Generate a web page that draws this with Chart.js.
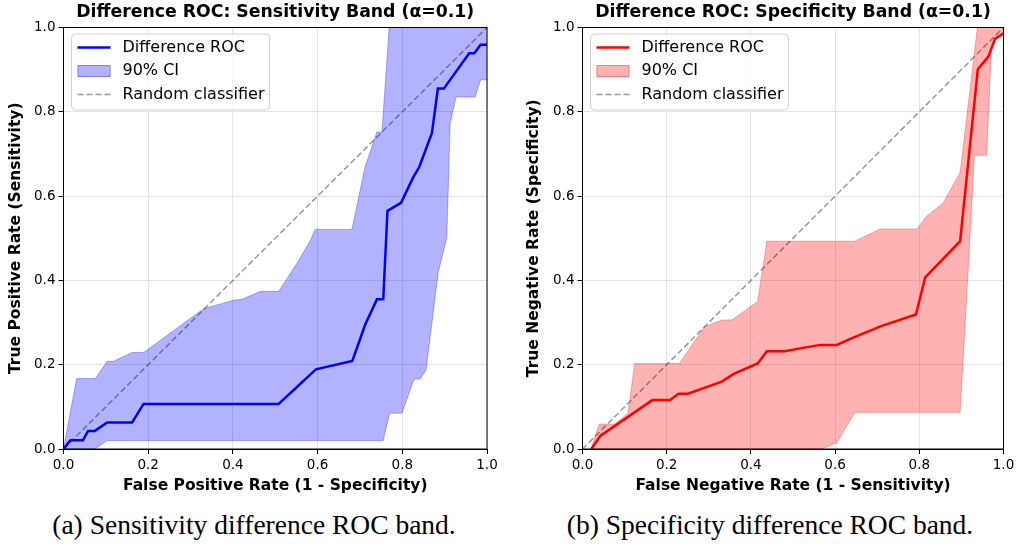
<!DOCTYPE html>
<html>
<head>
<meta charset="utf-8">
<script src="https://cdn.jsdelivr.net/npm/chart.js@4.4.0/dist/chart.umd.min.js"></script>
<style>
  html, body { margin: 0; padding: 0; background: #fff; }
  body { width: 1018px; height: 550px; position: relative; overflow: hidden; }
  .panel { position: absolute; top: 0; }
  .cap { position: absolute; top: 509px; font-family: 'Liberation Serif', 'Times New Roman', serif; font-size: 27.5px; color: #000; text-align: center; white-space: nowrap; }
</style>
</head>
<body>
<div class="panel" style="left:0px;width:510px;height:500px"><canvas id="c1" width="510" height="500"></canvas></div>
<div class="panel" style="left:510px;width:508px;height:500px"><canvas id="c2" width="508" height="500"></canvas></div>
<div class="cap" style="left:0px;width:508px;">(a) Sensitivity difference ROC band.</div>
<div class="cap" style="left:516px;width:508px;">(b) Specificity difference ROC band.</div>
<script>
// ---------------- DATA ----------------
const tickValues = [0.0, 0.2, 0.4, 0.6, 0.8, 1.0];
const diagonal = [[0, 0], [1, 1]];

// Panel (a): sensitivity band
const sensRoc = [[0,0],[0.0165,0.021],[0.046,0.021],[0.058,0.043],[0.074,0.043],[0.103,0.063],[0.162,0.063],[0.189,0.107],[0.508,0.107],[0.596,0.189],[0.682,0.209],[0.712,0.294],[0.740,0.355],[0.755,0.355],[0.765,0.565],[0.797,0.584],[0.826,0.645],[0.840,0.669],[0.870,0.750],[0.884,0.855],[0.898,0.855],[0.958,0.939],[0.970,0.939],[0.985,0.959],[1.0,0.959]];
const sensUpper = [[0,0],[0.031,0.167],[0.075,0.167],[0.103,0.208],[0.118,0.208],[0.162,0.229],[0.189,0.229],[0.331,0.333],[0.402,0.353],[0.421,0.355],[0.465,0.374],[0.508,0.374],[0.551,0.44],[0.583,0.495],[0.594,0.521],[0.681,0.521],[0.712,0.669],[0.740,0.752],[0.752,0.752],[0.769,1.0],[1.0,1.0]];
const sensLower = [[0,0],[0.075,0],[0.103,0.020],[0.755,0.020],[0.770,0.085],[0.799,0.085],[0.828,0.166],[0.842,0.166],[0.856,0.187],[0.885,0.42],[0.905,0.5],[0.913,0.772],[0.927,0.835],[0.972,0.835],[0.985,0.876],[1.0,0.876]];

// Panel (b): specificity band
const specRoc = [[0.021,0],[0.042,0.031],[0.166,0.116],[0.208,0.116],[0.228,0.131],[0.250,0.131],[0.331,0.160],[0.359,0.178],[0.416,0.203],[0.438,0.232],[0.480,0.232],[0.564,0.247],[0.604,0.247],[0.643,0.264],[0.711,0.292],[0.792,0.319],[0.814,0.407],[0.897,0.493],[0.939,0.901],[0.964,0.931],[0.980,0.973],[1.0,0.986]];
const specUpper = [[0.02,0],[0.033,0.04],[0.040,0.059],[0.076,0.059],[0.108,0.085],[0.124,0.203],[0.230,0.203],[0.290,0.290],[0.331,0.306],[0.355,0.306],[0.416,0.350],[0.438,0.493],[0.647,0.493],[0.707,0.522],[0.794,0.522],[0.816,0.551],[0.856,0.583],[0.897,0.656],[0.938,1.0],[1.0,1.0]];
const specLower = [[0.02,0],[0.568,0],[0.604,0.015],[0.647,0.087],[0.897,0.087],[0.920,0.496],[0.931,0.697],[0.960,0.697],[0.972,0.965],[1.0,0.985]];

// ---------------- CHART ----------------
const FONT = "'DejaVu Sans', Verdana, sans-serif";
const pts = a => a.map(p => ({x: p[0], y: p[1]}));

function frameLegendTitle(opts) {
  return {
    id: 'frameLegendTitle',
    afterDraw(chart) {
      const ctx = chart.ctx, a = chart.chartArea;
      ctx.save();
      // frame
      ctx.strokeStyle = '#000'; ctx.lineWidth = 1;
      ctx.strokeRect(a.left, a.top, a.right - a.left, a.bottom - a.top);
      // title
      ctx.fillStyle = '#000';
      ctx.font = "bold 17.3px " + FONT;
      ctx.textAlign = 'center'; ctx.textBaseline = 'middle';
      ctx.fillText(opts.title, (a.left + a.right) / 2, 13);
      // legend box
      const bx = a.left + 8, by = a.top + 6.5, bw = 198, bh = 76, r = 4;
      ctx.beginPath();
      ctx.moveTo(bx + r, by); ctx.lineTo(bx + bw - r, by); ctx.arcTo(bx + bw, by, bx + bw, by + r, r);
      ctx.lineTo(bx + bw, by + bh - r); ctx.arcTo(bx + bw, by + bh, bx + bw - r, by + bh, r);
      ctx.lineTo(bx + r, by + bh); ctx.arcTo(bx, by + bh, bx, by + bh - r, r);
      ctx.lineTo(bx, by + r); ctx.arcTo(bx, by, bx + r, by, r);
      ctx.closePath();
      ctx.fillStyle = 'rgba(255,255,255,0.8)'; ctx.fill();
      ctx.strokeStyle = '#d0d0d0'; ctx.lineWidth = 1; ctx.stroke();
      const hx = bx + 6, hw = 33, tx = bx + 51;
      const rows = [by + 13.5, by + 37, by + 60.5];
      // handle 1: line
      ctx.strokeStyle = opts.color; ctx.lineWidth = 2.5;
      ctx.beginPath(); ctx.moveTo(hx, rows[0]); ctx.lineTo(hx + hw, rows[0]); ctx.stroke();
      // handle 2: fill
      ctx.fillStyle = opts.fill; ctx.fillRect(hx, rows[1] - 6, hw, 12);
      ctx.strokeStyle = opts.fill; ctx.lineWidth = 1; ctx.strokeRect(hx + 0.5, rows[1] - 5.5, hw - 1, 11);
      // handle 3: dashed
      ctx.strokeStyle = 'rgba(0,0,0,0.4)'; ctx.lineWidth = 1.5; ctx.setLineDash([6, 3]);
      ctx.beginPath(); ctx.moveTo(hx, rows[2]); ctx.lineTo(hx + hw, rows[2]); ctx.stroke();
      ctx.setLineDash([]);
      // texts
      ctx.fillStyle = '#000'; ctx.font = "16px " + FONT; ctx.textAlign = 'left'; ctx.textBaseline = 'middle';
      ctx.fillText('Difference ROC', tx, rows[0]);
      ctx.fillText('90% CI', tx, rows[1]);
      ctx.fillText('Random classifier', tx, rows[2]);
      ctx.restore();
    }
  };
}

function makeChart(id, o) {
  const canvas = document.getElementById(id);
  return new Chart(canvas, {
    type: 'scatter',
    data: {
      datasets: [
        { data: pts(o.roc), showLine: true, borderColor: o.color, borderWidth: 2.5, pointRadius: 0, fill: false, order: 0, tension: 0 },
        { data: pts(diagonal), showLine: true, borderColor: 'rgba(0,0,0,0.4)', borderWidth: 1.5, borderDash: [6, 3], pointRadius: 0, fill: false, order: 1 },
        { data: pts(o.lower), showLine: true, borderColor: o.fill, borderWidth: 1, pointRadius: 0, fill: false, order: 3 },
        { data: pts(o.upper), showLine: true, borderColor: o.fill, borderWidth: 1, pointRadius: 0, fill: 2, backgroundColor: o.fill, order: 2 }
      ]
    },
    options: {
      responsive: false,
      animation: false,
      devicePixelRatio: 1,
      layout: { padding: { left: 0, top: 27.5, right: o.padRight, bottom: 0 } },
      plugins: { legend: { display: false }, tooltip: { enabled: false }, title: { display: false } },
      scales: {
        x: {
          type: 'linear', min: 0, max: 1,
          afterBuildTicks: s => { s.ticks = tickValues.map(v => ({ value: v })); },
          afterFit: s => { s.height = 51; },
          ticks: { callback: v => v.toFixed(1), color: '#000', font: { family: FONT, size: 13.5 }, padding: 3, maxRotation: 0 },
          grid: { color: '#e3e3e3', lineWidth: 1, tickColor: '#000', tickLength: 5, tickWidth: 1 },
          border: { color: '#000', width: 1 },
          title: { display: true, text: o.xTitle, color: '#000', font: { family: FONT, size: 15.5, weight: 'bold' }, padding: { top: 0, bottom: 4.7 } }
        },
        y: {
          type: 'linear', min: 0, max: 1,
          afterBuildTicks: s => { s.ticks = tickValues.map(v => ({ value: v })); },
          afterFit: s => { s.width = o.yWidth; },
          ticks: { callback: v => v.toFixed(1), color: '#000', font: { family: FONT, size: 13.5 }, padding: 3 },
          grid: { color: '#e3e3e3', lineWidth: 1, tickColor: '#000', tickLength: 5, tickWidth: 1 },
          border: { color: '#000', width: 1 },
          title: { display: true, text: o.yTitle, color: '#000', font: { family: FONT, size: 15.5, weight: 'bold' }, padding: { top: o.yTitlePad, bottom: 0 } }
        }
      }
    },
    plugins: [frameLegendTitle(o)]
  });
}

makeChart('c1', {
  roc: sensRoc, upper: sensUpper, lower: sensLower,
  color: '#0000ff', fill: 'rgba(0,0,255,0.3)',
  title: 'Difference ROC: Sensitivity Band (\u03b1=0.1)',
  xTitle: 'False Positive Rate (1 - Specificity)',
  yTitle: 'True Positive Rate (Sensitivity)',
  yWidth: 63.5, padRight: 23, yTitlePad: 6.2
});
makeChart('c2', {
  roc: specRoc, upper: specUpper, lower: specLower,
  color: '#ff0000', fill: 'rgba(255,0,0,0.3)',
  title: 'Difference ROC: Specificity Band (\u03b1=0.1)',
  xTitle: 'False Negative Rate (1 - Sensitivity)',
  yTitle: 'True Negative Rate (Specificity)',
  yWidth: 72.5, padRight: 14.5, yTitlePad: 14.2
});
</script>
</body>
</html>
